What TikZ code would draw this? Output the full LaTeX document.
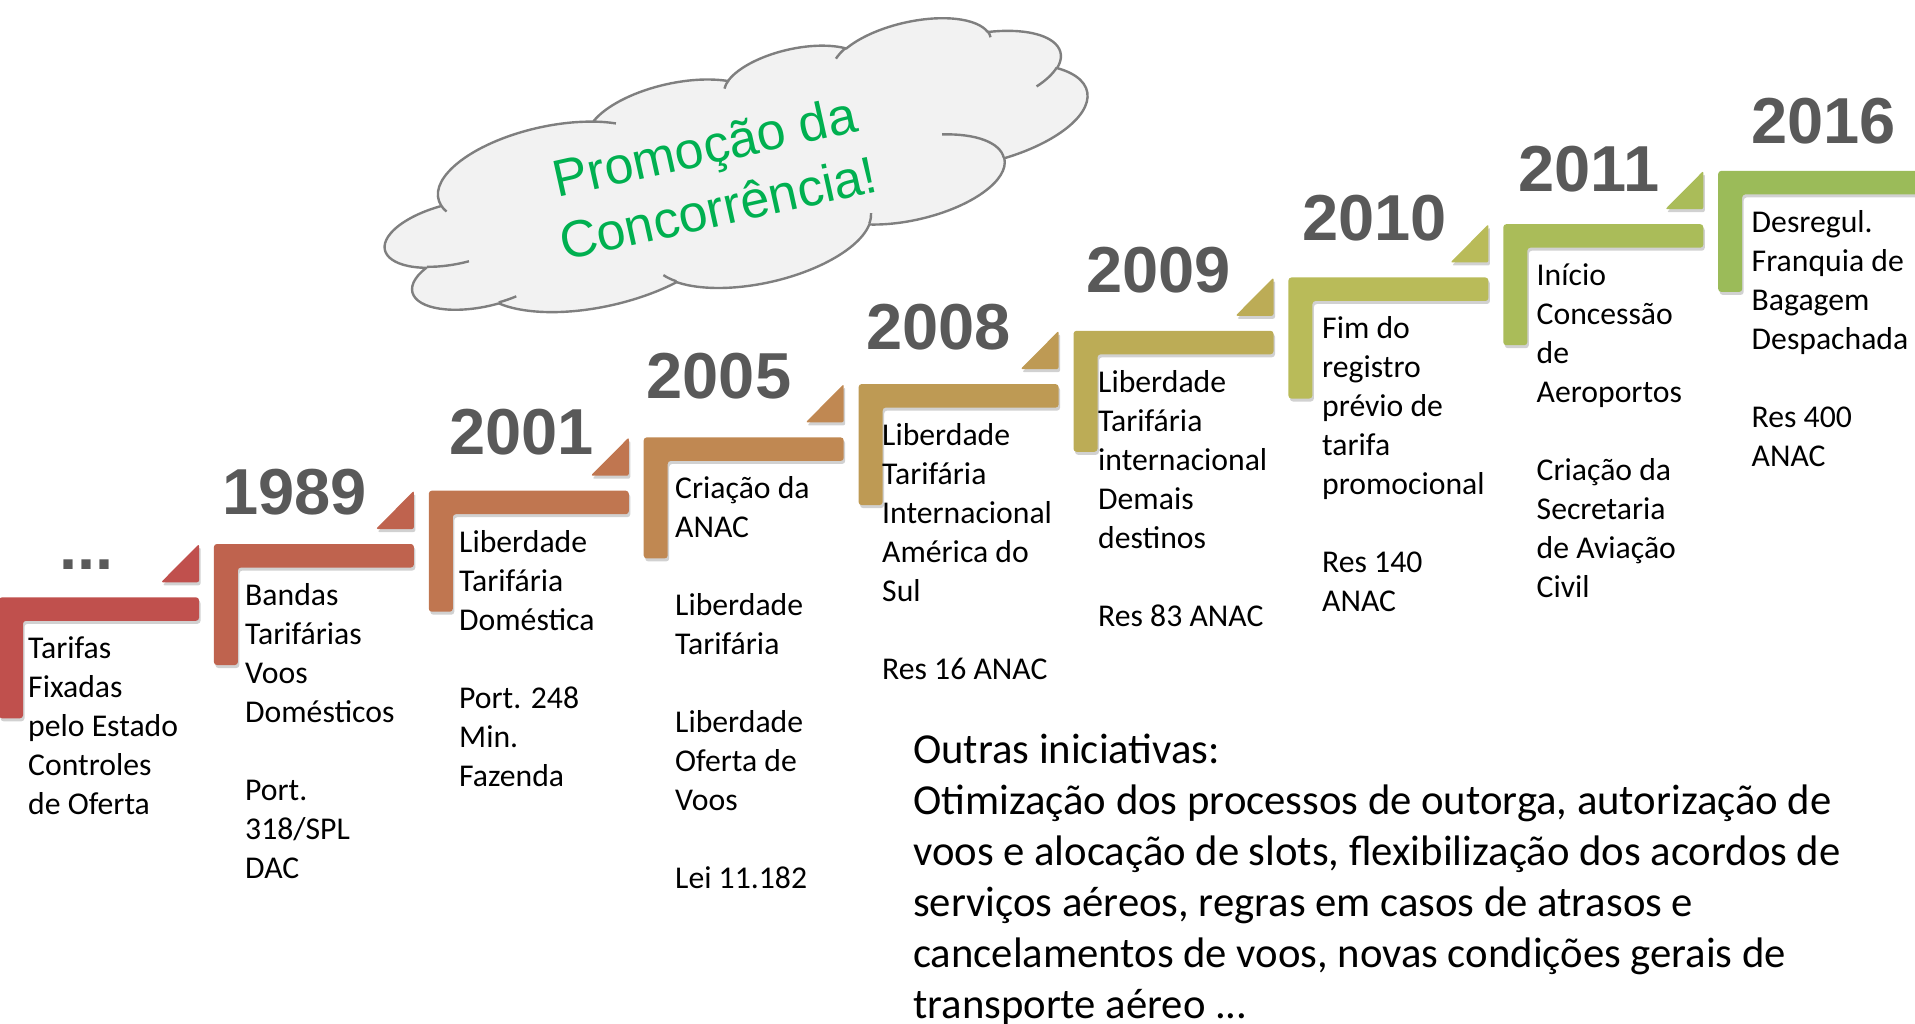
\documentclass[tikz,border=0pt]{standalone}
\usepackage{fontspec}
\setmainfont{Carlito}
\newfontfamily\arialf{Liberation Sans}
\definecolor{sc0}{HTML}{C0504D}
\definecolor{sc1}{HTML}{BF634E}
\definecolor{sc2}{HTML}{C07650}
\definecolor{sc3}{HTML}{C08852}
\definecolor{sc4}{HTML}{BE9A54}
\definecolor{sc5}{HTML}{BCAC56}
\definecolor{sc6}{HTML}{B9BB59}
\definecolor{sc7}{HTML}{AABC59}
\definecolor{sc8}{HTML}{9BBB59}
\definecolor{yeargray}{HTML}{595959}
\definecolor{cloudfill}{HTML}{F2F2F2}
\definecolor{cloudline}{HTML}{7F7F7F}
\definecolor{cloudgreen}{HTML}{00B050}
\tikzset{
  steptext/.style={anchor=north west, inner sep=0pt, align=left, text=black,
    font=\fontsize{31.7}{39}\selectfont},
  yeartext/.style={anchor=base west, inner sep=0pt, text=yeargray,
    font=\arialf\bfseries\fontsize{65}{70}\selectfont},
  cloudtext/.style={anchor=center, inner sep=0pt, text=cloudgreen, rotate=12.5, align=center,
    font=\arialf\fontsize{52}{63}\selectfont},
  bottomtext/.style={anchor=north west, inner sep=0pt, align=left, text=black,
    font=\fontsize{42.7}{51}\selectfont},
  shadowfill/.style={fill=black, opacity=0.18},
  cloudstroke/.style={draw=cloudline, line width=2.4pt, line join=round},
}
% L shaped step: #1 x, #2 y, #3 colour
\newcommand{\stepL}[3]{%
  \fill[shadowfill, rounded corners=3pt] ({#1+1.5},{#2+3}) -- ++(200,0) -- ++(0,23.5) -- ++(-176,0) -- ++(0,97.5) -- ++(-24,0) -- cycle;
  \fill[#3, rounded corners=3pt] (#1,#2) -- ++(200,0) -- ++(0,23.5) -- ++(-176,0) -- ++(0,97.5) -- ++(-24,0) -- cycle;
}
% triangle: #1 x, #2 y, #3 y of next step, #4 colour
\newcommand{\stepT}[4]{%
  \fill[shadowfill, rounded corners=2pt] ({#1+201.5},{#3+3}) -- ({#1+201.5},{#2-12}) -- ({#1+163.5},{#2-12}) -- cycle;
  \fill[#4, rounded corners=2pt] ({#1+200},{#3}) -- ({#1+200},{#2-15}) -- ({#1+162},{#2-15}) -- cycle;
}
% elliptic arc given by visual start angle and sweep -> parametric angles
\newcommand{\pptarc}[5]{%
  \pgfmathsetmacro\ppa{atan2((#2)*sin(#4),(#3)*cos(#4))}%
  \pgfmathsetmacro\ppb{atan2((#2)*sin((#4)+(#5)),(#3)*cos((#4)+(#5)))}%
  \pgfmathsetmacro\ppd{\ppb-(\ppa)}%
  \pgfmathsetmacro\ppd{(\ppd<0) ? (\ppd+360) : (\ppd)}%
  \expandafter\xdef\csname #1s\endcsname{\ppa}%
  \expandafter\xdef\csname #1d\endcsname{\ppd}%
}
\begin{document}
\begin{tikzpicture}[x=1pt,y=-1pt]
\useasboundingbox (0,0) rectangle (1915,1024);
% ---- cloud geometry (outer arcs)
\pptarc{cA}{6.753}{9.190}{-190.487}{123.781}
\pptarc{cB}{5.333}{7.267}{-144.102}{89.945}
\pptarc{cC}{4.365}{5.945}{-145.808}{99.723}
\pptarc{cD}{4.857}{6.595}{-130.986}{117.242}
\pptarc{cE}{5.333}{7.273}{-78.709}{109.027}
\pptarc{cF}{6.775}{9.220}{-46.267}{130.269}
\pptarc{cG}{5.785}{7.867}{0.625}{114.033}
\pptarc{cH}{6.752}{9.215}{22.452}{115.173}
\pptarc{cI}{7.720}{10.543}{66.243}{75.711}
\pptarc{cJ}{4.360}{5.918}{-274.942}{146.736}
\pptarc{cK}{4.345}{5.945}{-246.829}{152.519}
% inner arcs
\pptarc{iA}{4.345}{5.945}{86.742}{26.430}
\pptarc{iB}{4.360}{5.918}{73.610}{11.447}
\pptarc{iC}{6.752}{9.215}{137.624}{14.081}
\pptarc{iD}{6.752}{9.215}{6.453}{15.998}
\pptarc{iE}{5.785}{7.867}{-70.292}{70.917}
\pptarc{iF}{5.333}{7.273}{30.318}{27.752}
\pptarc{iG}{4.857}{6.595}{-13.744}{14.859}
\pptarc{iH}{4.857}{6.595}{-149.181}{18.195}
\pptarc{iI}{4.365}{5.945}{-163.494}{17.686}
\pptarc{iJ}{6.753}{9.190}{-66.707}{12.319}
\pptarc{iK}{6.753}{9.190}{157.654}{11.858}
\begin{scope}[x={(16.21pt,3.763pt)}, y={(1.273pt,-4.986pt)}, shift={(359.56pt,-148.4pt)}]
\path[fill=cloudfill, cloudstroke] (3.900,14.370)
  arc[start angle=\cAs, delta angle=\cAd, x radius=6.753, y radius=9.190]
  arc[start angle=\cBs, delta angle=\cBd, x radius=5.333, y radius=7.267]
  arc[start angle=\cCs, delta angle=\cCd, x radius=4.365, y radius=5.945]
  arc[start angle=\cDs, delta angle=\cDd, x radius=4.857, y radius=6.595]
  arc[start angle=\cEs, delta angle=\cEd, x radius=5.333, y radius=7.273]
  arc[start angle=\cFs, delta angle=\cFd, x radius=6.775, y radius=9.220]
  arc[start angle=\cGs, delta angle=\cGd, x radius=5.785, y radius=7.867]
  arc[start angle=\cHs, delta angle=\cHd, x radius=6.752, y radius=9.215]
  arc[start angle=\cIs, delta angle=\cId, x radius=7.720, y radius=10.543]
  arc[start angle=\cJs, delta angle=\cJd, x radius=4.360, y radius=5.918]
  arc[start angle=\cKs, delta angle=\cKd, x radius=4.345, y radius=5.945]
  -- cycle;
\path[cloudstroke]
  (4.693,26.177) arc[start angle=\iAs, delta angle=\iAd, x radius=4.345, y radius=5.945]
  (6.928,34.899) arc[start angle=\iBs, delta angle=\iBd, x radius=4.360, y radius=5.918]
  (16.478,39.090) arc[start angle=\iCs, delta angle=\iCd, x radius=6.752, y radius=9.215]
  (28.827,34.751) arc[start angle=\iDs, delta angle=\iDd, x radius=6.752, y radius=9.215]
  (34.129,22.954) arc[start angle=\iEs, delta angle=\iEd, x radius=5.785, y radius=7.867]
  (41.798,15.354) arc[start angle=\iFs, delta angle=\iFd, x radius=5.333, y radius=7.273]
  (38.324,5.426) arc[start angle=\iGs, delta angle=\iGd, x radius=4.857, y radius=6.595]
  (29.078,3.952) arc[start angle=\iHs, delta angle=\iHd, x radius=4.857, y radius=6.595]
  (22.141,4.720) arc[start angle=\iIs, delta angle=\iId, x radius=4.365, y radius=5.945]
  (14.000,5.192) arc[start angle=\iJs, delta angle=\iJd, x radius=6.753, y radius=9.190]
  (4.127,15.789) arc[start angle=\iKs, delta angle=\iKd, x radius=6.753, y radius=9.190];
\end{scope}
\node[cloudtext] (cloudlabel) at (712.6,183) {\rule{0pt}{40pt}Promoção da\\Concorrência!\rule[-15pt]{0pt}{15pt}};
% steps
\stepL{-1}{597.3}{sc0}
\stepT{-1}{597.3}{544.0}{sc0}
\stepL{213.9}{544.0}{sc1}
\stepT{213.9}{544.0}{490.7}{sc1}
\stepL{428.8}{490.7}{sc2}
\stepT{428.8}{490.7}{437.4}{sc2}
\stepL{643.7}{437.4}{sc3}
\stepT{643.7}{437.4}{384.1}{sc3}
\stepL{858.6}{384.1}{sc4}
\stepT{858.6}{384.1}{330.8}{sc4}
\stepL{1073.5}{330.8}{sc5}
\stepT{1073.5}{330.8}{277.5}{sc5}
\stepL{1288.4}{277.5}{sc6}
\stepT{1288.4}{277.5}{224.2}{sc6}
\stepL{1503.3}{224.2}{sc7}
\stepT{1503.3}{224.2}{170.9}{sc7}
\stepL{1718.2}{170.9}{sc8}
% years
\node[yeartext] (y0) at (59.5,569) {...};
\node[yeartext] (y1) at (222,514) {1989};
\node[yeartext] (y2) at (449,454) {2001};
\node[yeartext] (y3) at (646.5,398) {2005};
\node[yeartext] (y4) at (866,349) {2008};
\node[yeartext] (y5) at (1086,293) {2009};
\node[yeartext] (y6) at (1302,241) {2010};
\node[yeartext] (y7) at (1518,192) {2011};
\node[yeartext] (y8) at (1751,144) {2016};
% step texts (first baseline = node top + 30)
\node[steptext] (t0) at (28,628.5) {\rule{0pt}{30pt}Tarifas\\Fixadas\\pelo Estado\\Controles\\de Oferta};
\node[steptext] (t1) at (245,575) {\rule{0pt}{30pt}Bandas\\Tarifárias\\Voos\\Domésticos\\[39pt]Port.\\318/SPL\\DAC};
\node[steptext] (t2) at (459,522) {\rule{0pt}{30pt}Liberdade\\Tarifária\\Doméstica\\[39pt]Port. 248\\Min.\\Fazenda};
\node[steptext] (t3) at (675,468.6) {\rule{0pt}{30pt}Criação da\\ANAC\\[39pt]Liberdade\\Tarifária\\[39pt]Liberdade\\Oferta de\\Voos\\[39pt]Lei 11.182};
\node[steptext] (t4) at (882,415) {\rule{0pt}{30pt}Liberdade\\Tarifária\\Internacional\\América do\\Sul\\[39pt]Res 16 ANAC};
\node[steptext] (t5) at (1098,362) {\rule{0pt}{30pt}Liberdade\\Tarifária\\internacional\\Demais\\destinos\\[39pt]Res 83 ANAC};
\node[steptext] (t6) at (1322,308.7) {\rule{0pt}{30pt}Fim do\\registro\\prévio de\\tarifa\\promocional\\[39pt]Res 140\\ANAC};
\node[steptext] (t7) at (1536.5,255.4) {\rule{0pt}{30pt}Início\\Concessão\\de\\Aeroportos\\[39pt]Criação da\\Secretaria\\de Aviação\\Civil};
\node[steptext] (t8) at (1751.5,202) {\rule{0pt}{30pt}Desregul.\\Franquia de\\Bagagem\\Despachada\\[39pt]Res 400\\ANAC};
% bottom text
\node[bottomtext] (bt) at (913,723) {\rule{0pt}{40pt}Outras iniciativas:\\Otimização dos processos de outorga, autorização de\\voos e alocação de slots, flexibilização dos acordos de\\serviços aéreos, regras em casos de atrasos e\\cancelamentos de voos, novas condições gerais de\\transporte aéreo ...};
\end{tikzpicture}
\end{document}
